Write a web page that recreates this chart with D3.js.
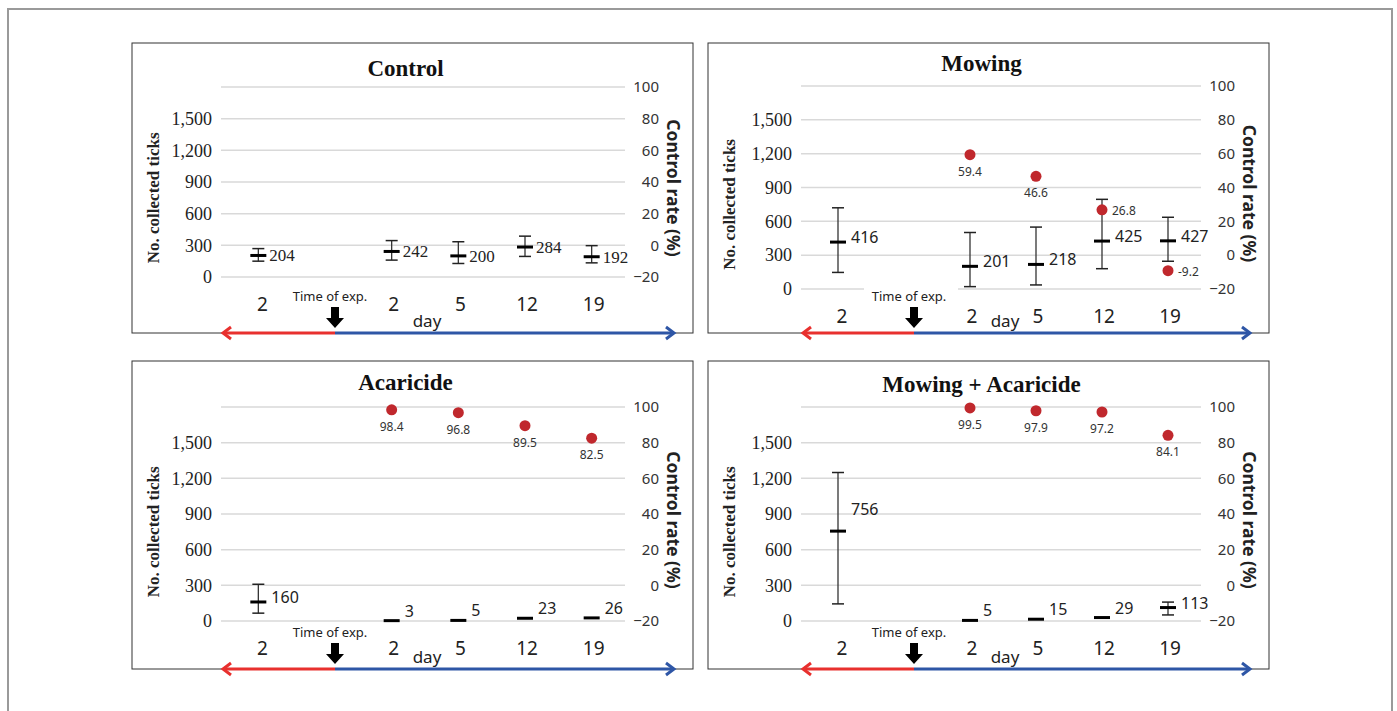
<!DOCTYPE html>
<html><head><meta charset="utf-8">
<script src="https://cdnjs.cloudflare.com/ajax/libs/d3/7.8.5/d3.min.js"></script>
<style>body{margin:0;background:#fff}svg{display:block}</style>
</head><body>
<svg id="chart" width="1397" height="711"></svg>
<script>
// ---------- data ----------
const slots = ["pre", "exp", "d2", "d5", "d12", "d19"];
const pointSlots = ["pre", "d2", "d5", "d12", "d19"];
const rateSlots = ["d2", "d5", "d12", "d19"];
const dayLabels = ["2", "2", "5", "12", "19"];
const leftTicks = [0, 300, 600, 900, 1200, 1500];
const rightTicks = [-20, 0, 20, 40, 60, 80, 100];

const titles = ["Control", "Mowing", "Acaricide", "Mowing + Acaricide"];

const controlMean = [204, 242, 200, 284, 192];
const controlLow  = [150, 160, 128, 195, 134];
const controlHigh = [269, 345, 334, 387, 297];
const controlRate = [];

const mowingMean = [416, 201, 218, 425, 427];
const mowingLow  = [147, 21, 36, 180, 246];
const mowingHigh = [720, 501, 549, 795, 636];
const mowingRate = [59.4, 46.6, 26.8, -9.2];

const acaricideMean = [160, 3, 5, 23, 26];
const acaricideLow  = [66, 3, 5, 23, 26];
const acaricideHigh = [309, 3, 5, 23, 26];
const acaricideRate = [98.4, 96.8, 89.5, 82.5];

const mowAcaMean = [756, 5, 15, 29, 113];
const mowAcaLow  = [144, 5, 15, 29, 51];
const mowAcaHigh = [1249, 5, 15, 29, 159];
const mowAcaRate = [99.5, 97.9, 97.2, 84.1];

// ---------- layout ----------
const panels = [
  {title: titles[0], mean: controlMean, low: controlLow, high: controlHigh, rate: controlRate,
   box: [132, 43, 693, 333], plot: [225, 625, 87, 277], titleY: 76, serifLabels: true},
  {title: titles[1], mean: mowingMean, low: mowingLow, high: mowingHigh, rate: mowingRate,
   box: [708, 43, 1269, 333], plot: [805, 1201, 86, 289], titleY: 71},
  {title: titles[2], mean: acaricideMean, low: acaricideLow, high: acaricideHigh, rate: acaricideRate,
   box: [132, 361, 693, 669], plot: [225, 625, 407, 621], titleY: 390},
  {title: titles[3], mean: mowAcaMean, low: mowAcaLow, high: mowAcaHigh, rate: mowAcaRate,
   box: [708, 361, 1269, 669], plot: [805, 1201, 407, 621], titleY: 392}
];

const svg = d3.select("#chart");
svg.append("rect").attr("x", 8).attr("y", 9).attr("width", 1384).attr("height", 730)
  .attr("fill", "none").attr("stroke", "#9a9a9a").attr("stroke-width", 2);

const SERIF = "'Liberation Serif', 'Times New Roman', serif";
const SANS = "'Noto Sans', 'DejaVu Sans', sans-serif";

panels.forEach(p => {
  const [bx0, by0, bx1, by1] = p.box;
  const [pl, pr, pt, pb] = p.plot;
  const g = svg.append("g");

  g.append("rect").attr("x", bx0).attr("y", by0).attr("width", bx1 - bx0).attr("height", by1 - by0)
    .attr("fill", "#fff").attr("stroke", "#333").attr("stroke-width", 1);

  const x = d3.scaleBand().domain(slots).range([pl, pr]);
  const yR = d3.scaleLinear().domain([-20, 100]).range([pb, pt]);
  const yL = d3.scaleLinear().domain([0, 1800]).range([pb, pt]);
  const cx = s => x(s) + x.bandwidth() / 2;

  // gridlines
  g.append("g").selectAll("line").data(rightTicks).join("line")
    .attr("x1", pl - 4).attr("x2", pr).attr("y1", d => yR(d)).attr("y2", d => yR(d))
    .attr("stroke", "#d9d9d9").attr("stroke-width", 1.5);

  // left axis
  const la = g.append("g").attr("transform", `translate(${pl - 13},0)`)
    .call(d3.axisLeft(yL).tickValues(leftTicks).tickSize(0).tickPadding(0).tickFormat(d3.format(",")));
  la.select(".domain").remove();
  la.attr("font-family", SERIF).attr("font-size", 18);
  la.selectAll("text").attr("font-family", SERIF).attr("font-size", 18).attr("fill", "#222");

  // right axis
  const ra = g.append("g").attr("transform", `translate(${pr + 34},0)`)
    .call(d3.axisLeft(yR).tickValues(rightTicks).tickSize(0).tickPadding(0)
      .tickFormat(d => d < 0 ? "\u2212" + Math.abs(d) : d));
  ra.select(".domain").remove();
  ra.attr("font-family", SANS).attr("font-size", 15);
  ra.selectAll("text").attr("font-family", SANS).attr("font-size", 15).attr("fill", "#333");

  // title
  g.append("text").attr("x", (bx0 + bx1) / 2 - 7).attr("y", p.titleY).attr("text-anchor", "middle")
    .attr("font-family", SERIF).attr("font-weight", "bold").attr("font-size", 23).attr("fill", "#111")
    .text(p.title);

  // y labels
  const lmid = (yL(0) + yL(1500)) / 2;
  g.append("text").attr("transform", `translate(${bx0 + 27},${lmid}) rotate(-90)`)
    .attr("text-anchor", "middle").attr("font-family", SERIF).attr("font-weight", "bold")
    .attr("font-size", 17).attr("fill", "#222").text("No. collected ticks");
  const rmid = (pt + pb) / 2 + 6;
  g.append("text").attr("transform", `translate(${bx1 - 26},${rmid}) rotate(90)`)
    .attr("text-anchor", "middle").attr("font-family", SANS).attr("font-weight", "bold")
    .attr("font-size", 17.5).attr("fill", "#222").text("Control rate (%)");

  // time of exp.
  const ax = cx("exp") + 10;
  const tg = g.append("g");
  tg.append("rect").attr("x", ax - 50).attr("y", by1 - 47).attr("width", 94).attr("height", 19).attr("fill", "#fff");
  tg.append("text").attr("x", ax - 5).attr("y", by1 - 32).attr("text-anchor", "middle")
    .attr("font-family", SANS).attr("font-size", 13).attr("fill", "#222").text("Time of exp.");
  const at = by1 - 26;
  tg.append("path")
    .attr("d", `M${ax - 4},${at} L${ax + 4},${at} L${ax + 4},${at + 11} L${ax + 9},${at + 11} L${ax},${at + 21} L${ax - 9},${at + 11} L${ax - 4},${at + 11} Z`)
    .attr("fill", "#000");

  // category labels
  g.append("g").selectAll("text").data(pointSlots).join("text")
    .attr("x", (d, i) => cx(d) + (i === 0 ? 4 : 2)).attr("y", pb + 34).attr("text-anchor", "middle")
    .attr("font-family", SANS).attr("font-size", 19).attr("fill", "#222")
    .text((d, i) => dayLabels[i]);
  g.append("text").attr("x", (cx("d2") + cx("d5")) / 2 + 2).attr("y", by1 - 6).attr("text-anchor", "middle")
    .attr("font-family", SANS).attr("font-size", 17).attr("fill", "#222").text("day");

  // bottom arrows
  const arrowY = by1;
  g.append("line").attr("x1", pl - 2).attr("x2", ax).attr("y1", arrowY).attr("y2", arrowY)
    .attr("stroke", "#e8302e").attr("stroke-width", 3);
  g.append("path").attr("d", `M${pl + 6},${arrowY - 6} L${pl - 2},${arrowY} L${pl + 6},${arrowY + 6}`)
    .attr("fill", "none").attr("stroke", "#e8302e").attr("stroke-width", 3);
  const bend = bx1 - 19;
  g.append("line").attr("x1", ax).attr("x2", bend).attr("y1", arrowY).attr("y2", arrowY)
    .attr("stroke", "#2e56a6").attr("stroke-width", 3);
  g.append("path").attr("d", `M${bend - 8},${arrowY - 6} L${bend},${arrowY} L${bend - 8},${arrowY + 6}`)
    .attr("fill", "none").attr("stroke", "#2e56a6").attr("stroke-width", 3);

  // error bars
  const pts = pointSlots.map((s, i) => ({s, m: p.mean[i], lo: p.low[i], hi: p.high[i]}));
  const eb = g.append("g").selectAll("g").data(pts).join("g");
  eb.filter(d => d.hi > d.lo).append("line")
    .attr("x1", d => cx(d.s)).attr("x2", d => cx(d.s)).attr("y1", d => yL(d.lo)).attr("y2", d => yL(d.hi))
    .attr("stroke", "#333").attr("stroke-width", 1.3);
  eb.filter(d => d.hi > d.lo).selectAll(".cap").data(d => [[d.s, d.lo], [d.s, d.hi]]).join("line")
    .attr("x1", d => cx(d[0]) - 6).attr("x2", d => cx(d[0]) + 6)
    .attr("y1", d => yL(d[1])).attr("y2", d => yL(d[1]))
    .attr("stroke", "#222").attr("stroke-width", 1.5);
  eb.append("line")
    .attr("x1", d => cx(d.s) - 8).attr("x2", d => cx(d.s) + 8).attr("y1", d => yL(d.m)).attr("y2", d => yL(d.m))
    .attr("stroke", "#000").attr("stroke-width", 3);
  eb.append("text")
    .attr("x", d => cx(d.s) + (p.serifLabels ? 11 : 13))
    .attr("y", d => {
      if (p.serifLabels) return yL(d.m) + 6;
      if (d.m > 600) return yL(d.m) - 16;
      if (d.hi - d.lo < 1) return yL(d.m) - 4;
      return yL(d.m) + 1;
    })
    .attr("font-family", p.serifLabels ? SERIF : SANS).attr("font-size", p.serifLabels ? 17 : 16)
    .attr("fill", "#222").text(d => d.m);

  // control rate dots
  const rates = p.rate.map((v, i) => ({s: rateSlots[i], v}));
  const rg = g.append("g").selectAll("g").data(rates).join("g");
  rg.append("circle").attr("cx", d => cx(d.s)).attr("cy", d => yR(d.v)).attr("r", 5.5).attr("fill", "#c0282d");
  rg.append("text")
    .attr("x", d => d.v > 40 ? cx(d.s) : cx(d.s) + 10)
    .attr("y", d => d.v > 40 ? yR(d.v) + 21 : yR(d.v) + 5)
    .attr("text-anchor", d => d.v > 40 ? "middle" : "start")
    .attr("font-family", SANS).attr("font-size", 12).attr("fill", "#333").text(d => d.v);
});
</script>
</body></html>
